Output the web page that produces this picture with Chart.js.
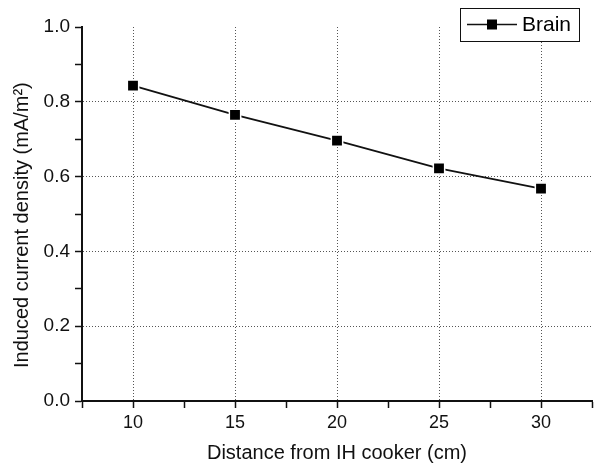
<!DOCTYPE html>
<html>
<head>
<meta charset="utf-8">
<script src="https://cdn.jsdelivr.net/npm/chart.js@4.4.1/dist/chart.umd.min.js"></script>
<style>
  body { margin: 0; background: #fff; }
  #wrap { width: 604px; height: 466px; }
</style>
</head>
<body>
<div id="wrap"><canvas id="myChart" width="604" height="466"></canvas></div>
<script>
const ctx = document.getElementById('myChart');

// data
const distances = [10, 15, 20, 25, 30];
const brainValues = [0.843, 0.765, 0.696, 0.622, 0.568];
const seriesName = 'Brain';

// axis ranges (minor ticks every half step)
const xRange = [7.5, 32.5];
const xStep = 2.5;
const yRange = [0, 1];
const yStep = 0.1;

const FONT = "'Liberation Sans', Arial, sans-serif";

const points = distances.map(function (d, i) {
    return { x: d, y: brainValues[i] };
});

// legend box drawn in the top right corner, like the original
const cornerLegend = {
    id: 'cornerLegend',
    afterDraw(chart) {
        const c = chart.ctx;
        const ds = chart.data.datasets[0];
        c.save();
        c.fillStyle = '#fff';
        c.fillRect(460, 8, 119, 33);
        c.strokeStyle = '#111';
        c.lineWidth = 1;
        c.strokeRect(460.5, 8.5, 119, 33);
        c.beginPath();
        c.moveTo(467, 24.5);
        c.lineTo(517, 24.5);
        c.lineWidth = 1.6;
        c.stroke();
        c.fillStyle = '#000';
        c.fillRect(487, 19.5, 10, 10);
        c.font = '21px ' + FONT;
        c.textBaseline = 'middle';
        c.fillText(ds.label, 522, 25);
        c.restore();
    }
};

const isMajorX = v => Math.abs(v % 5) < 1e-6;
const isMajorY = v => Math.round(v * 10) % 2 === 0;

const myChart = new Chart(ctx, {
    type: 'line',
    data: {
        datasets: [{
            label: seriesName,
            data: points,
            borderColor: '#111',
            borderWidth: 1.8,
            pointStyle: 'rect',
            pointRadius: 8,
            pointBackgroundColor: '#000',
            pointBorderColor: '#fff',
            pointBorderWidth: 1.5,
            tension: 0
        }]
    },
    options: {
        responsive: false,
        animation: false,
        layout: { padding: { left: 0, top: 27, right: 12, bottom: 0 } },
        plugins: {
            legend: { display: false },
            tooltip: { enabled: false }
        },
        scales: {
            x: {
                type: 'linear',
                min: xRange[0],
                max: xRange[1],
                afterFit: function (scale) { scale.height = 65; },
                ticks: {
                    stepSize: xStep,
                    autoSkip: false,
                    maxRotation: 0,
                    padding: 4,
                    color: '#111',
                    font: { family: FONT, size: 18 },
                    callback: v => isMajorX(v) ? String(v) : ''
                },
                grid: {
                    color: c => (isMajorX(c.tick.value) && c.tick.value !== xRange[0]) ? '#555' : 'rgba(0,0,0,0)',
                    lineWidth: 1,
                    tickLength: 7,
                    tickColor: '#111',
                    tickWidth: 1.5,
                    tickBorderDash: []
                },
                border: { color: '#111', width: 2, dash: [1, 2] },
                title: {
                    display: true,
                    text: 'Distance from IH cooker (cm)',
                    color: '#111',
                    font: { family: FONT, size: 20 },
                    padding: { top: 0, bottom: 1 }
                }
            },
            y: {
                min: yRange[0],
                max: yRange[1],
                afterFit: function (scale) { scale.width = 82; },
                ticks: {
                    stepSize: yStep,
                    autoSkip: false,
                    padding: 5,
                    color: '#111',
                    font: { family: FONT, size: 19 },
                    callback: v => isMajorY(v) ? v.toFixed(1) : ''
                },
                grid: {
                    color: c => (isMajorY(c.tick.value) && c.tick.value > 0 && c.tick.value < 0.99) ? '#555' : 'rgba(0,0,0,0)',
                    lineWidth: 1,
                    tickLength: 7,
                    tickColor: '#111',
                    tickWidth: 1.5,
                    tickBorderDash: []
                },
                border: { color: '#111', width: 2, dash: [1, 2] },
                title: {
                    display: true,
                    // trailing spaces push the text down a little, as in the original
                    text: 'Induced current density (mA/m\u00B2)    ',
                    color: '#111',
                    font: { family: FONT, size: 20 },
                    padding: { top: 10, bottom: 0 }
                }
            }
        }
    },
    plugins: [cornerLegend]
});
</script>
</body>
</html>
